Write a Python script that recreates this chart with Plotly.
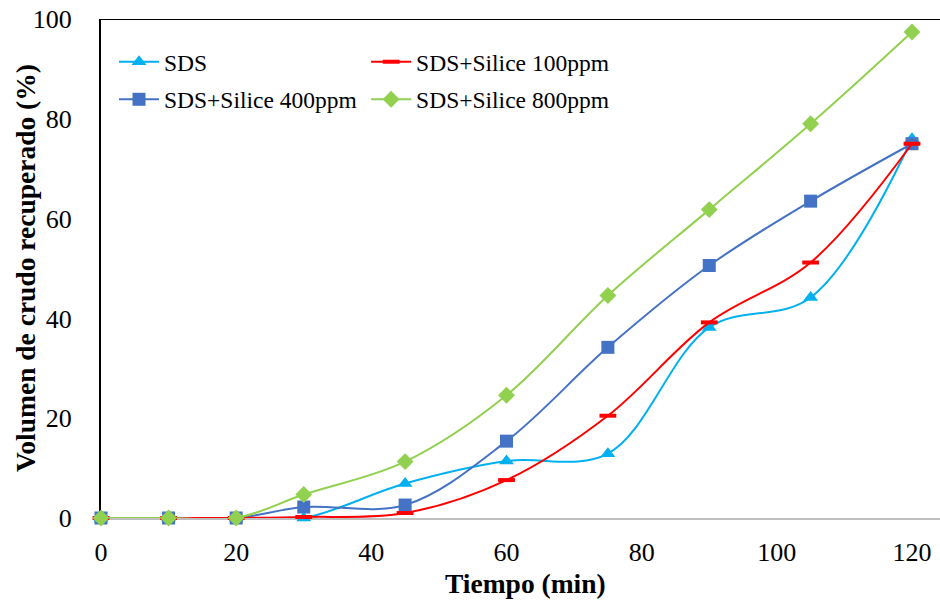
import plotly.graph_objects as go

tiempo = [0, 10, 20, 30, 45, 60, 75, 90, 105, 120]
sds = [0, 0, 0, 0, 6.9, 11.4, 12.9, 38.2, 44.2, 76.0]
sds_100 = [0, 0, 0, 0.2, 1.0, 7.6, 20.5, 39.2, 51.2, 75.0]
sds_400 = [0, 0, 0, 2.2, 2.6, 15.4, 34.2, 50.6, 63.5, 75.0]
sds_800 = [0, 0, 0, 4.7, 11.3, 24.6, 44.6, 61.8, 79.0, 97.4]

names = ["SDS", "SDS+Silice 100ppm", "SDS+Silice 400ppm", "SDS+Silice 800ppm"]
x_title = "Tiempo (min)"
y_title = "Volumen de crudo recuperado (%)"

FONT = "Times New Roman"

fig = go.Figure()

fig.add_trace(go.Scatter(
    x=tiempo, y=sds, name=names[0], mode="lines+markers",
    line=dict(color="#00B0F0", width=2, shape="spline"),
    marker=dict(symbol="triangle-up", size=13, color="#00B0F0"),
    cliponaxis=False, legend="legend", legendgroup="a"))
fig.add_trace(go.Scatter(
    x=tiempo, y=sds_400, name=names[2], mode="lines+markers",
    line=dict(color="#4472C4", width=2, shape="spline"),
    marker=dict(symbol="square", size=13, color="#4472C4"),
    cliponaxis=False, legend="legend", legendgroup="b"))
fig.add_trace(go.Scatter(
    x=tiempo, y=sds_100, name=names[1], mode="lines+markers",
    line=dict(color="#FF0000", width=2, shape="spline"),
    marker=dict(symbol="line-ew", size=12, color="#FF0000",
                line=dict(color="#FF0000", width=4)),
    cliponaxis=False, legend="legend2", legendgroup="c"))
fig.add_trace(go.Scatter(
    x=tiempo, y=sds_800, name=names[3], mode="lines+markers",
    line=dict(color="#92D050", width=2, shape="spline"),
    marker=dict(symbol="diamond", size=13, color="#92D050"),
    cliponaxis=False, legend="legend2", legendgroup="d"))

fig.add_shape(type="line", xref="paper", x0=0, x1=1, yref="y", y0=100, y1=100,
              line=dict(color="black", width=2), layer="below")

fig.add_annotation(text="<b>" + x_title + "</b>", xref="paper", yref="paper",
                   x=(525 - 101) / 839, y=-(583 - 518) / 499,
                   xanchor="center", yanchor="middle", showarrow=False,
                   font=dict(size=27.5, family=FONT, color="black"))
fig.add_annotation(text="<b>" + y_title + "</b>", xref="paper", yref="paper",
                   x=-(101 - 25) / 839, y=(518 - 268) / 499, textangle=-90,
                   xanchor="center", yanchor="middle", showarrow=False,
                   font=dict(size=27.5, family=FONT, color="black"))

leg_common = dict(xanchor="left", yanchor="top", bgcolor="rgba(0,0,0,0)",
                  font=dict(size=23.5, family=FONT, color="black"),
                  tracegroupgap=4, orientation="v", itemwidth=40)

fig.update_layout(
    width=940, height=601,
    margin=dict(l=101, r=0, t=19, b=83, autoexpand=False),
    paper_bgcolor="white", plot_bgcolor="white",
    font=dict(family=FONT, color="black", size=26),
    showlegend=True,
    legend=dict(x=0.0155, y=0.958, **leg_common),
    legend2=dict(x=0.316, y=0.958, **leg_common),
    xaxis=dict(range=[0, 120 * 839 / 811], tickmode="array",
               tickvals=[0, 20, 40, 60, 80, 100, 120],
               showgrid=False, zeroline=False, showline=True,
               linecolor="#BFBFBF", linewidth=2, ticks="",
               ticklabelstandoff=10, layer="below traces", automargin=False,
               tickfont=dict(size=26, family=FONT, color="black")),
    yaxis=dict(range=[0, 100], tickmode="array",
               tickvals=[0, 20, 40, 60, 80, 100],
               showgrid=False, zeroline=False, showline=True,
               linecolor="black", linewidth=2, ticks="",
               ticklabelstandoff=22, layer="below traces", automargin=False,
               tickfont=dict(size=26, family=FONT, color="black")),
)

fig.write_html("out.html", config={"displayModeBar": False},
               post_script="document.body.style.margin='0';")
